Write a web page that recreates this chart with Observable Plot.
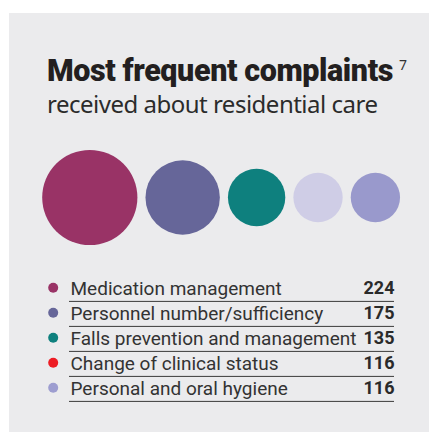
<!DOCTYPE html>
<html>
<head>
<meta charset="utf-8">
<script src="https://cdn.jsdelivr.net/npm/d3@7"></script>
<script src="https://cdn.jsdelivr.net/npm/@observablehq/plot@0.6"></script>
<style>
  html, body { margin: 0; padding: 0; background: #ffffff; width: 429px; height: 432px; overflow: hidden; }
  #panel { position: absolute; left: 9px; top: 13px; width: 420px; height: 419px; background: #EBEBED; }
  #title { position: absolute; left: 47px; top: 55.5px; font-family: Roboto, "Noto Sans", sans-serif; font-weight: 900;
           font-size: 30.5px; line-height: 30.5px; color: #231F20; white-space: nowrap; letter-spacing: -0.4px; }
  #title .sup { font-family: "Noto Sans", sans-serif; font-weight: 400; font-size: 14px; color: #333;
                position: relative; top: -11px; margin-left: 6px; letter-spacing: 0; }
  #subtitle { position: absolute; left: 47px; top: 92px; font-family: "Noto Sans", sans-serif; font-weight: 400;
              font-size: 24px; line-height: 24px; color: #2b2b2b; white-space: nowrap; letter-spacing: -0.5px; }
  #bubbles { position: absolute; left: 0; top: 140px; }
  #legend { position: absolute; left: 0; top: 270px; }
  svg { background: transparent !important; }
</style>
</head>
<body>
<div id="panel"></div>
<div id="title">Most frequent complaints<span class="sup">7</span></div>
<div id="subtitle">received about residential care</div>
<div id="bubbles"></div>
<div id="legend"></div>
<script>
// ---- data ----
const categories = [
  "Medication management",
  "Personnel number/sufficiency",
  "Falls prevention and management",
  "Change of clinical status",
  "Personal and oral hygiene"
];
const values = [224, 175, 135, 116, 116];
const bubbleColors = ["#993366", "#666699", "#0E807E", "#CFCDE6", "#9999CC"];
const legendColors = ["#993366", "#666699", "#0E807E", "#ED1C24", "#9D9DD0"];

// ---- layout of bubbles (radius linear in value, packed left to right) ----
const k = 0.2125;       // px per value unit
const gapUnits = 38;    // gap between circles in value units
let acc = 0;
const bubbles = categories.map((c, i) => {
  const cx = acc + values[i];
  acc += 2 * values[i] + gapUnits;
  return {category: c, value: values[i], cx};
});
const total = acc - gapUnits;
const x0 = 41.7;

const bubblePlot = Plot.plot({
  width: 429,
  height: 114,
  margin: 0,
  style: {background: "transparent"},
  x: {type: "linear", domain: [0, total], range: [x0, x0 + total * k], axis: null},
  r: {type: "linear", domain: [0, d3.max(values)], range: [0, d3.max(values) * k]},
  color: {domain: categories, range: bubbleColors},
  marks: [
    Plot.dot(bubbles, {x: "cx", r: "value", fill: "category", stroke: null})
  ]
});
document.getElementById("bubbles").appendChild(bubblePlot);

// ---- legend table ----
const rows = categories.map((c, i) => ({category: c, value: values[i]}));
const legendPlot = Plot.plot({
  width: 429,
  height: 140,
  marginLeft: 69,
  marginRight: 35,
  marginTop: 0,
  marginBottom: 0,
  style: {background: "transparent", fontFamily: "Roboto, sans-serif"},
  y: {type: "point", domain: categories, range: [17.2, 118.2], padding: 0, axis: null},
  color: {domain: categories, range: legendColors},
  marks: [
    Plot.ruleY(rows, {y: "category", dy: 12.9, stroke: "#3a3a3a", strokeWidth: 1}),
    Plot.dot(rows, {y: "category", frameAnchor: "left", dx: -16.3, dy: -0.8, r: 5, fill: "category", stroke: null}),
    Plot.text(rows, {y: "category", text: "category", frameAnchor: "left", textAnchor: "start", dx: 1,
                     fontSize: 19, fill: "#333333", fontFamily: "Roboto, sans-serif"}),
    Plot.text(rows, {y: "category", text: d => String(d.value), frameAnchor: "right", textAnchor: "end",
                     fontSize: 18, fontWeight: 700, fill: "#2a2a2a", fontFamily: "Roboto, sans-serif",
                     letterSpacing: -0.4})
  ]
});
document.getElementById("legend").appendChild(legendPlot);
</script>
</body>
</html>
